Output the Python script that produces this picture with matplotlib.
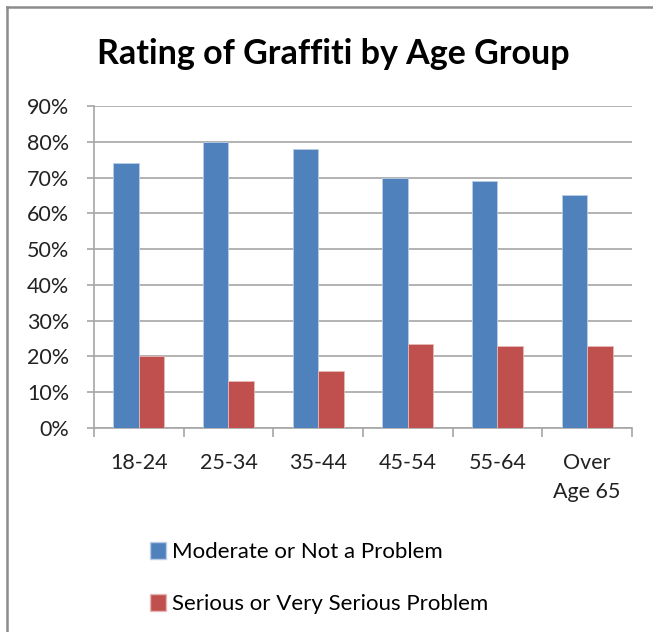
import numpy as np
import matplotlib
matplotlib.use("Agg")
import matplotlib.pyplot as plt
from matplotlib.lines import Line2D
from matplotlib.patches import Patch

# data
age_groups = ["18-24", "25-34", "35-44", "45-54", "55-64", "Over\nAge 65"]
moderate = [74, 80, 78, 70, 69, 65]
serious = [20, 13, 16, 23.5, 23, 23]
yticks = list(range(0, 100, 10))

blue = "#4f81bd"
red = "#c0504d"
grid_col = "#a6a6a6"

plt.rcParams["font.family"] = ["Lato", "DejaVu Sans"]

fig = plt.figure(figsize=(6.53, 6.32), dpi=100)
ax = fig.add_axes([94 / 653, 1 - 428 / 632, (632 - 94) / 653, (428 - 106) / 632])

x = np.arange(len(age_groups))
w = 0.285
ax.bar(x - w / 2, moderate, w, color=blue, edgecolor="#b9cde5", linewidth=0.6, zorder=3)
ax.bar(x + w / 2, serious, w, color=red, edgecolor="#e6b9b8", linewidth=0.6, zorder=3)

ax.set_xlim(-0.5, len(age_groups) - 0.5)
ax.set_ylim(0, 90)
ax.set_yticks(yticks)
ax.set_yticklabels([f"{v}%" for v in yticks], fontsize=15.5, color="#222222")
ax.yaxis.grid(True, color=grid_col, linewidth=1.2, zorder=0)

# category labels centered, tick marks at boundaries
ax.set_xticks(x)
ax.set_xticklabels(age_groups, fontsize=15.5, color="#222222", va="top", linespacing=1.55)
ax.set_xticks(np.arange(-0.5, len(age_groups)), minor=True)
ax.tick_params(axis="x", which="major", length=0, pad=18)
ax.tick_params(axis="x", which="minor", length=6.5, color=grid_col, width=1.2)
ax.tick_params(axis="y", length=5, color=grid_col, width=1.2, pad=13)

for s in ["top", "right"]:
    ax.spines[s].set_visible(False)
for s in ["left", "bottom"]:
    ax.spines[s].set_color(grid_col)
    ax.spines[s].set_linewidth(1.2)

fig.text(333 / 653, 1 - 64 / 632, "Rating of Graffiti by Age Group",
         ha="center", va="baseline", fontsize=24.5, fontweight="bold", color="black")

handles = [Patch(facecolor=blue, edgecolor="#b9cde5"), Patch(facecolor=red, edgecolor="#e6b9b8")]
fig.legend(handles, ["Moderate or Not a Problem", "Serious or Very Serious Problem"],
           loc="upper left", bbox_to_anchor=(150 / 653, 1 - 542 / 632), frameon=False,
           fontsize=16, handlelength=0.72, handleheight=0.77, handletextpad=0.27,
           labelspacing=1.45, borderpad=0, borderaxespad=0)

# outer frame on left and top edges
fig.add_artist(Line2D([6.5 / 653, 6.5 / 653], [0, 1 - 7 / 632], color="#8c8c8c", linewidth=1.8))
fig.add_artist(Line2D([6.5 / 653, 1], [1 - 7 / 632, 1 - 7 / 632], color="#8c8c8c", linewidth=1.8))

fig.savefig("out.png", dpi=100, facecolor="white")
